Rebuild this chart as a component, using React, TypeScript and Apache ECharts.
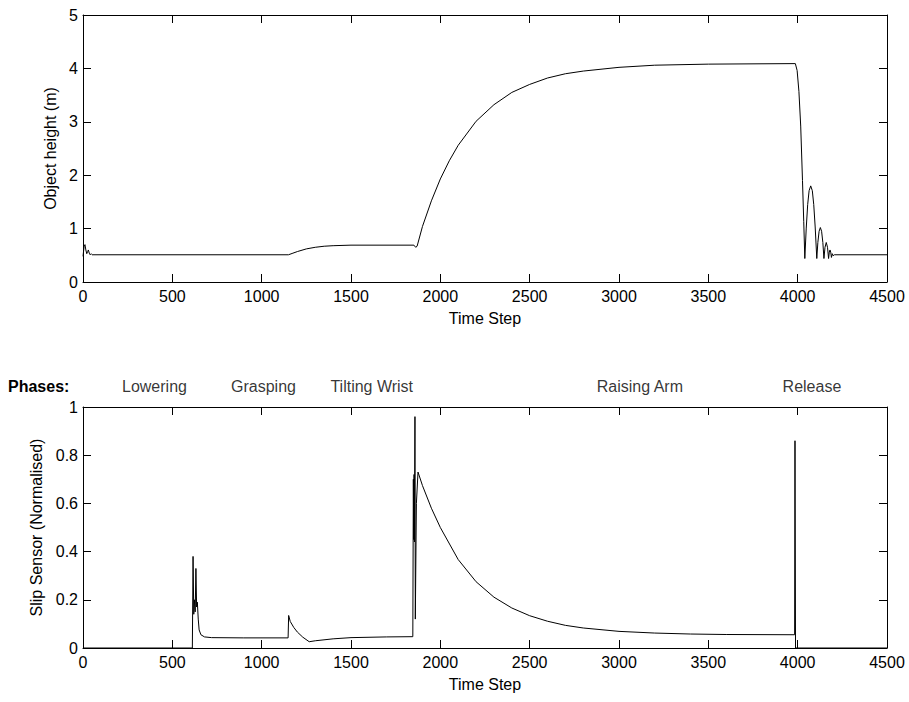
import React, { useEffect, useRef } from "react";
import * as echarts from "echarts";

// ---- Data ----
const xMin = 0;
const xMax = 4500;
const xInterval = 500;

const heightTime = [
  0, 6, 11, 16, 21, 26, 30, 35, 40, 46, 52,
  1150, 1175, 1200, 1250, 1300, 1350, 1400, 1500, 1852, 1862, 1870,
  1900, 1950, 2000, 2050, 2100, 2200, 2300, 2400, 2500, 2600, 2700, 2800,
  3000, 3200, 3500, 3987,
  3997, 4007, 4017, 4027, 4034, 4040,
  4048, 4056, 4064, 4073, 4082, 4090, 4098, 4107,
  4113, 4120, 4127, 4134, 4141, 4147,
  4153, 4160, 4167, 4173,
  4177, 4181, 4185, 4189,
  4194, 4199, 4205, 4500,
];
const heightValue = [
  0.48, 0.66, 0.7, 0.6, 0.53, 0.57, 0.6, 0.54, 0.51, 0.53, 0.51,
  0.51, 0.54, 0.57, 0.62, 0.65, 0.67, 0.68, 0.69, 0.69, 0.65, 0.67,
  1.04, 1.52, 1.93, 2.27, 2.56, 3.01, 3.32, 3.55, 3.7, 3.82, 3.9, 3.95,
  4.02, 4.06, 4.08, 4.09,
  3.96, 3.57, 2.92, 1.9, 1.13, 0.44,
  1.01, 1.45, 1.71, 1.8, 1.71, 1.45, 1.03, 0.44,
  0.74, 0.95, 1.02, 0.95, 0.74, 0.44,
  0.65, 0.74, 0.65, 0.44,
  0.56, 0.6, 0.56, 0.46,
  0.53, 0.49, 0.51, 0.51,
];

const slipTime = [
  0, 612, 616, 620, 624, 628, 632, 636, 640, 645, 650, 660, 680, 720, 900, 1148,
  1151, 1160, 1180, 1200, 1230, 1266, 1300, 1400, 1500, 1700, 1846,
  1849, 1851, 1853, 1855, 1858, 1860, 1866, 1875,
  1900, 1950, 2000, 2100, 2200, 2300, 2400, 2500, 2600, 2700, 2800,
  3000, 3200, 3400, 3600, 3983, 3985, 3988, 4500,
];
const slipValue = [
  0, 0, 0.38, 0.14, 0.2, 0.15, 0.33, 0.17, 0.19, 0.12, 0.075, 0.055, 0.046, 0.043, 0.042, 0.042,
  0.135, 0.11, 0.085, 0.066, 0.045, 0.026, 0.03, 0.038, 0.043, 0.046, 0.047,
  0.7, 0.45, 0.72, 0.44, 0.96, 0.12, 0.6, 0.73,
  0.674, 0.58, 0.5, 0.367, 0.275, 0.211, 0.166, 0.134, 0.111, 0.094, 0.083,
  0.069, 0.062, 0.058, 0.056, 0.055, 0.86, 0, 0,
];

const phaseNames = ["Lowering", "Grasping", "Tilting Wrist", "Raising Arm", "Release"];
const phaseCenters = [400, 1010, 1616, 3117, 4080];

const topTitle = "Object height (m)";
const bottomTitle = "Slip Sensor (Normalised)";
const xTitle = "Time Step";
const phasesTitle = "Phases:";

// ---- Styling ----
const FONT = "'Liberation Sans', Arial, Helvetica, sans-serif";
const FS = 16;

const zip = (a: number[], b: number[]) => a.map((v, i) => [v, b[i]]);

function makeAxis(extra: any) {
  return {
    type: "value",
    axisLine: { show: true, onZero: false, lineStyle: { color: "#000", width: 1 } },
    axisTick: { show: true, inside: true, length: 8, lineStyle: { color: "#000", width: 1 } },
    splitLine: { show: false },
    axisLabel: { color: "#000", fontSize: FS, fontFamily: FONT },
    nameTextStyle: { color: "#000", fontSize: FS, fontFamily: FONT },
    ...extra,
  };
}

const plainNum = (v: number) => String(v);

export default function App() {
  const ref = useRef<HTMLDivElement>(null);
  useEffect(() => {
    if (!ref.current) return;
    const chart = echarts.init(ref.current, null, { renderer: "svg" });
    const xBase = { min: xMin, max: xMax, interval: xInterval };
    const xLabel = { color: "#000", fontSize: FS, fontFamily: FONT, margin: 6, formatter: plainNum };
    const yLabel = { color: "#000", fontSize: FS, fontFamily: FONT, margin: 5, formatter: plainNum };
    const option: any = {
      animation: false,
      backgroundColor: "#fff",
      textStyle: { fontFamily: FONT },
      grid: [
        { left: 83, right: 22, top: 15, height: 267 },
        { left: 83, right: 22, top: 407, height: 241 },
      ],
      xAxis: [
        makeAxis({
          ...xBase, gridIndex: 0, position: "bottom", name: xTitle, nameLocation: "middle", nameGap: 28,
          axisLabel: xLabel,
        }),
        makeAxis({ ...xBase, gridIndex: 0, position: "top", axisLabel: { show: false } }),
        makeAxis({
          ...xBase, gridIndex: 1, position: "bottom", name: xTitle, nameLocation: "middle", nameGap: 28,
          axisLabel: xLabel,
        }),
        makeAxis({ ...xBase, gridIndex: 1, position: "top", axisLabel: { show: false } }),
      ],
      yAxis: [
        makeAxis({
          gridIndex: 0, position: "left", min: 0, max: 5, interval: 1, name: topTitle,
          nameLocation: "middle", nameGap: 24, axisLabel: yLabel,
        }),
        makeAxis({ gridIndex: 0, position: "right", min: 0, max: 5, interval: 1, axisLabel: { show: false } }),
        makeAxis({
          gridIndex: 1, position: "left", min: 0, max: 1, interval: 0.2, name: bottomTitle,
          nameLocation: "middle", nameGap: 38, axisLabel: yLabel,
        }),
        makeAxis({ gridIndex: 1, position: "right", min: 0, max: 1, interval: 0.2, axisLabel: { show: false } }),
      ],
      series: [
        {
          type: "line", xAxisIndex: 0, yAxisIndex: 0, data: zip(heightTime, heightValue),
          showSymbol: false, symbol: "none", lineStyle: { color: "#000", width: 1 }, silent: true,
        },
        {
          type: "line", xAxisIndex: 2, yAxisIndex: 2, data: zip(slipTime, slipValue),
          showSymbol: false, symbol: "none", lineStyle: { color: "#000", width: 1 }, silent: true,
        },
        {
          type: "scatter", xAxisIndex: 2, yAxisIndex: 2, symbolSize: 1, silent: true,
          itemStyle: { color: "rgba(0,0,0,0)" },
          data: phaseCenters.map((x, i) => ({ value: [x, 1], name: phaseNames[i] })),
          label: {
            show: true, position: "top", distance: 12, formatter: (p: any) => p.name,
            color: "#000", fontSize: FS, fontFamily: FONT,
          },
        },
      ],
      graphic: [
        {
          type: "text", left: 8, top: 378,
          style: { text: phasesTitle, fill: "#000", font: `bold ${FS}px ${FONT}` },
        },
      ],
    };
    chart.setOption(option);
    return () => chart.dispose();
  }, []);
  return (
    <div
      ref={ref}
      style={{ position: "fixed", left: 0, top: 0, width: 909, height: 702, background: "#fff" }}
    />
  );
}
